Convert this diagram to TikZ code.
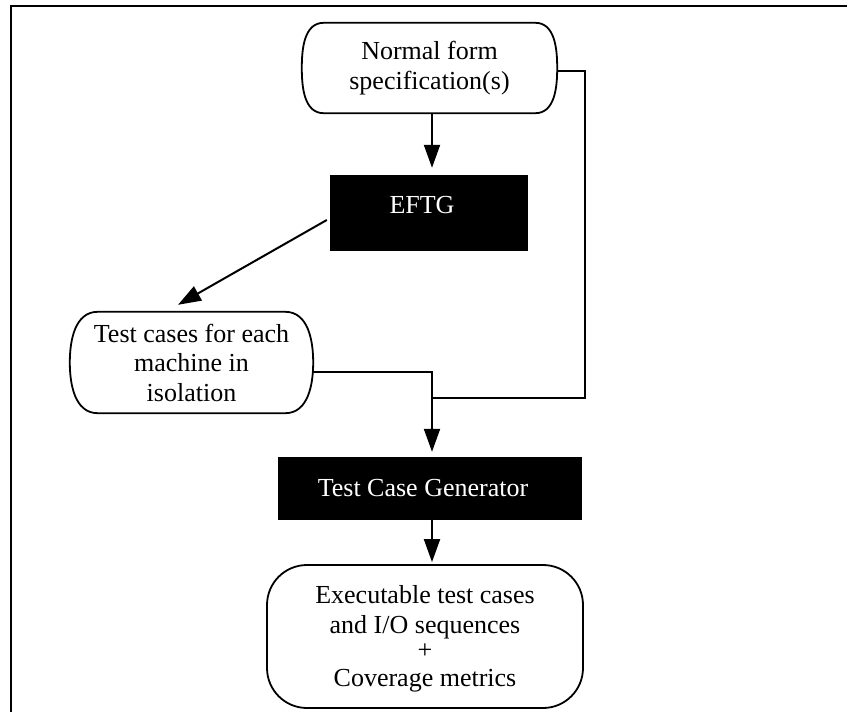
\documentclass[tikz,border=0pt]{standalone}
\usepackage{fontspec}
\setmainfont{Liberation Serif}
\usetikzlibrary{arrows.meta,calc}

% outline of a capsule-shaped terminal node: straight top/bottom, bulging ends
\newcommand\capsuleoutline[2]{%
  \draw[outline] ([xshift=#2]#1.north west) -- ([xshift=-#2]#1.north east)
    to[out=0,in=90] (#1.east) to[out=-90,in=0] ([xshift=-#2]#1.south east)
    -- ([xshift=#2]#1.south west) to[out=180,in=-90] (#1.west)
    to[out=90,in=180] cycle;}

\begin{document}
\begin{tikzpicture}[x=1pt,y=-1pt,
  every node/.style={font=\fontsize{26}{29.5}\selectfont},
  outline/.style={line width=1.8pt,line join=round},
  term/.style={inner sep=0pt,align=center},
  procbox/.style={fill=black,inner sep=0pt},
  proclabel/.style={text=white,inner sep=0pt},
  wire/.style={line width=2pt},
  arr/.style={wire,-{Triangle[length=23pt,width=16pt]}},
]
\useasboundingbox (0,0) rectangle (847,712);

% page frame (top and left edges)
\draw[line width=1.8pt] (11,712) -- (11,6) -- (847,6);

% nodes
\node[term,minimum width=255pt,minimum height=90pt] (spec) at (429.5,68)
  {Normal form\\specification(s)};
\capsuleoutline{spec}{22pt}

\node[procbox,minimum width=198pt,minimum height=76pt] (eftg) at (429,213) {};
\node[proclabel] (eftglabel) at (422,205) {EFTG};

\node[term,minimum width=243pt,minimum height=101pt] (iso) at (191.5,362.5)
  {Test cases for each\\machine in\\isolation};
\capsuleoutline{iso}{28pt}

\node[procbox,minimum width=304pt,minimum height=63pt] (tcg) at (430,488.5) {};
\node[proclabel] (tcglabel) at (423,488) {Test Case Generator};

\node[draw,outline,rounded corners=40pt,minimum width=316pt,minimum height=143pt]
  (out) at (425,636.5) {};
\node[term] (outlabel) at (425,639)
  {Executable test cases\\and I/O sequences\\[-4pt]+\\[-2pt]Coverage metrics};

% connectors
\coordinate (spine) at (432,0);
\coordinate (rturn) at (585,398);
\coordinate (join) at (432,398);

\draw[arr,shorten >=7pt] (spec.south -| spine) -- (eftg.north -| spine);
\draw[arr] ([xshift=-3pt,yshift=-7pt]eftg.west)
  -- ([xshift=-13.5pt,yshift=7pt]iso.north);
\draw[wire] ([yshift=-3pt]spec.east) -| (rturn) -- (join);
\draw[wire] ([yshift=-9.5pt]iso.east) -| (join);
\draw[arr,shorten >=5pt] (join) -- (tcg.north -| spine);
\draw[arr,shorten >=2pt] (tcg.south -| spine) -- (out.north -| spine);
\end{tikzpicture}
\end{document}
